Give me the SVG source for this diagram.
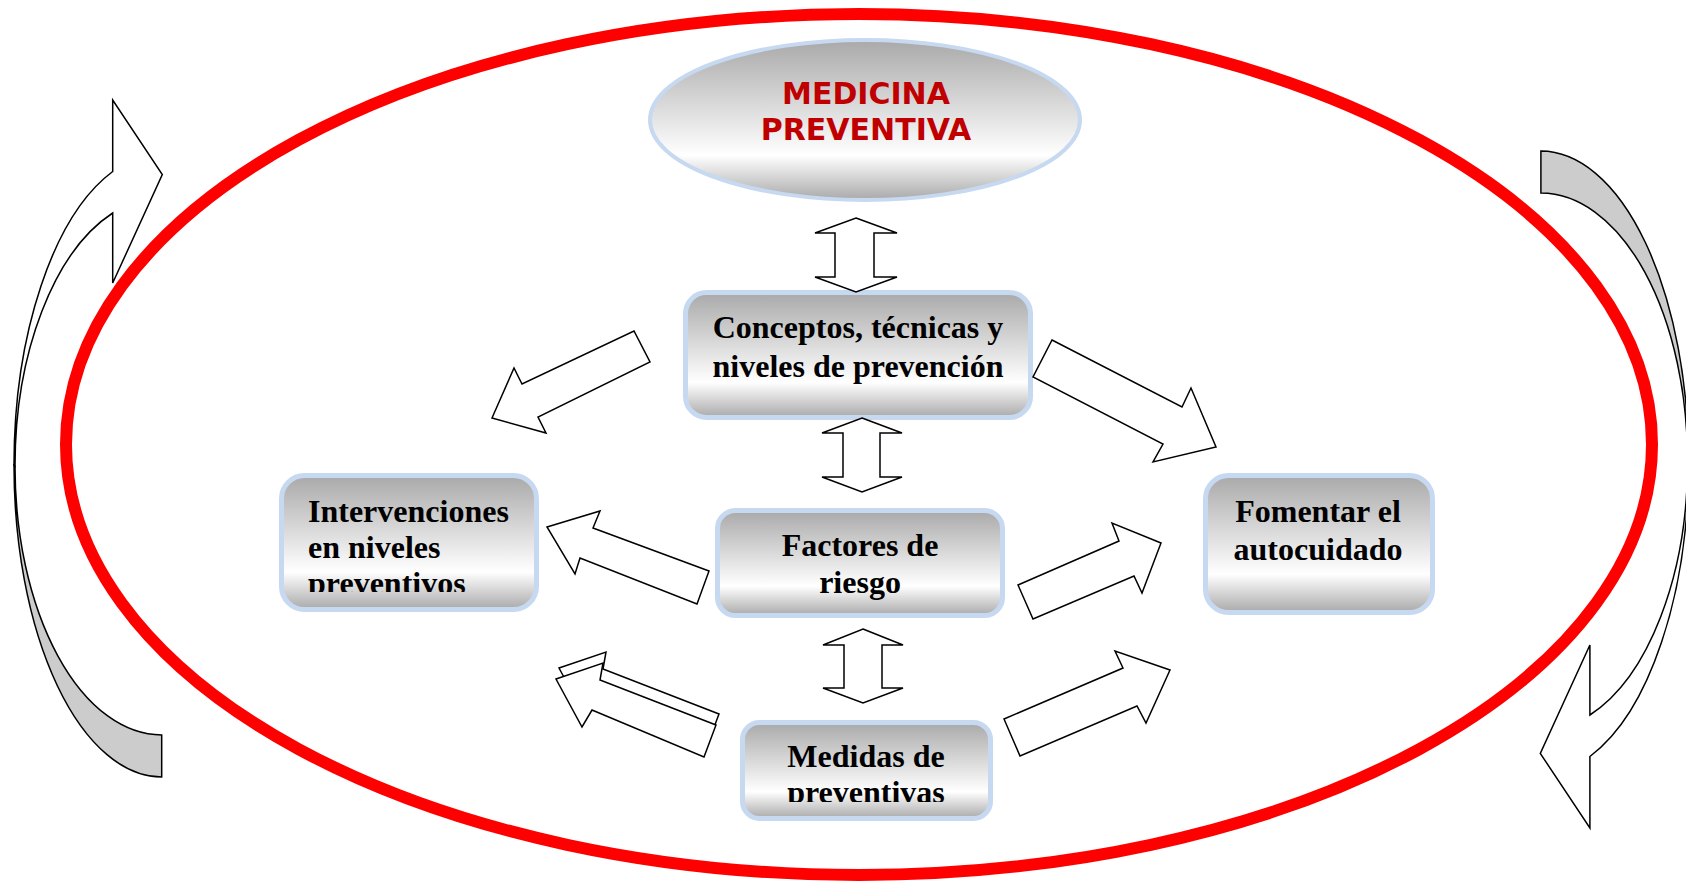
<svg xmlns="http://www.w3.org/2000/svg" width="1686" height="881" viewBox="0 0 1686 881">
<style>
.box{stroke:#C6D9F1;stroke-width:5;fill:url(#g)}
.t{font-family:"Liberation Serif","Times New Roman",serif;font-weight:bold;font-size:32px;fill:#000}
.c{text-anchor:middle}
.arr{fill:#fff;stroke:#000;stroke-width:1.5;stroke-linejoin:miter}
.cv{stroke:#000;stroke-width:1.5}
</style>
<defs>
<linearGradient id="g" x1="0" y1="0" x2="0" y2="1">
<stop offset="0" stop-color="#A9A9A9"/>
<stop offset="0.72" stop-color="#FFFFFF"/>
<stop offset="1" stop-color="#A9A9A9"/>
</linearGradient>
<clipPath id="clipInt"><rect x="281" y="475" width="256" height="117"/></clipPath>
<clipPath id="clipMed"><rect x="742" y="722" width="250" height="80"/></clipPath>
</defs>
<rect width="1686" height="881" fill="#fff"/>

<g id="curved-arrows">
<g id="curved-left">
<path class="cv" fill="#CCCCCC" d="M161.7,735 A147,268.8 0 0 1 15,466.2 L14,465.4 A148,311.6 0 0 0 161.7,777 Z"/>
<path class="cv" fill="#FFFFFF" d="M112.7,171.5 A148,311.6 0 0 0 14,465.4 L15,466.2 A147,268.8 0 0 1 112.7,213 L112.7,283 L162.3,174.6 L112.7,100 Z"/>
</g>
<g id="curved-right" transform="rotate(180 851.3 464)">
<path class="cv" fill="#CCCCCC" d="M161.7,735 A147,268.8 0 0 1 15,466.2 L14,465.4 A148,311.6 0 0 0 161.7,777 Z"/>
<path class="cv" fill="#FFFFFF" d="M112.7,171.5 A148,311.6 0 0 0 14,465.4 L15,466.2 A147,268.8 0 0 1 112.7,213 L112.7,283 L162.3,174.6 L112.7,100 Z"/>
</g>
</g>

<ellipse id="frame" cx="859" cy="444.5" rx="793" ry="430.5" fill="none" stroke="#FF0000" stroke-width="12"/>

<g id="medicina">
<ellipse cx="865" cy="120" rx="215" ry="80" stroke="#C6D9F1" stroke-width="4" fill="url(#g)"/>
<text x="866" y="104" text-anchor="middle" font-family="'DejaVu Sans',Verdana,sans-serif" font-weight="bold" font-size="30" fill="#C00000">MEDICINA</text>
<text x="866" y="140" text-anchor="middle" font-family="'DejaVu Sans',Verdana,sans-serif" font-weight="bold" font-size="30" fill="#C00000">PREVENTIVA</text>
</g>

<g id="conceptos">
<rect class="box" x="685.5" y="292.5" width="345" height="125" rx="21" ry="21"/>
<text class="t c" x="858" y="338">Conceptos, técnicas y</text>
<text class="t c" x="858" y="377">niveles de prevención</text>
</g>

<g id="intervenciones">
<rect class="box" x="281.5" y="475.5" width="255" height="134" rx="23" ry="23"/>
<g clip-path="url(#clipInt)">
<text class="t" x="308" y="522">Intervenciones</text>
<text class="t" x="308" y="558">en niveles</text>
<text class="t" x="308" y="594">preventivos</text>
</g>
</g>

<g id="factores">
<rect class="box" x="717.5" y="510.5" width="285" height="105" rx="18" ry="18"/>
<text class="t c" x="860" y="556">Factores de</text>
<text class="t c" x="860" y="593">riesgo</text>
</g>

<g id="fomentar">
<rect class="box" x="1205.5" y="475.5" width="227" height="137" rx="23" ry="23"/>
<text class="t c" x="1318" y="522">Fomentar el</text>
<text class="t c" x="1318" y="560">autocuidado</text>
</g>

<g id="medidas">
<rect class="box" x="742.5" y="722.5" width="248" height="96" rx="17" ry="17"/>
<g clip-path="url(#clipMed)">
<text class="t c" x="866" y="767">Medidas de</text>
<text class="t c" x="866" y="803">preventivas</text>
</g>
</g>

<g id="connectors">
<polygon class="arr" points="856,218 897,233 874,233 874,277 897,277 856,292 815,277 835,277 835,233 815,233"/>
<polygon class="arr" points="862,418 902,433 880,433 880,477 902,477 862,492 822,477 843,477 843,433 822,433"/>
<polygon class="arr" points="863,629 903,645 882,645 882,688 903,688 863,703 823,688 844,688 844,645 823,645"/>
<polygon class="arr" points="492,418 514,368 522,384 634,331 650,362 538,417 546,433"/>
<polygon class="arr" points="547,527 600,511 593,528 709,571 697,604 580,558 575,574"/>
<polygon class="arr" points="1052,340 1182,407 1191,388 1216,447 1153,462 1163,444 1033,377"/>
<polygon class="arr" points="1018,585 1119,541 1112,523 1161,543 1142,593 1134,576 1033,619"/>
<polygon class="arr" points="559,668 606,652 603,669 719,714 707,746 595,699 585,716"/>
<polygon class="arr" points="556,679 603,663 600,680 716,725 704,757 592,710 582,727"/>
<polygon class="arr" points="1004,719 1123,668 1115,651 1170,670 1146,723 1137,706 1020,756"/>
</g>
</svg>
